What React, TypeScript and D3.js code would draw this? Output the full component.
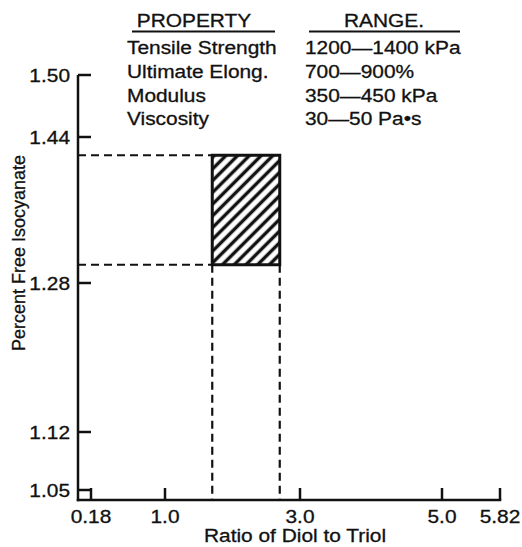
import React from "react";
import * as d3 from "d3";

// Tick values on both axes (the axes are schematic, not linear)
const isoTicks = [1.05, 1.12, 1.28, 1.44, 1.5];
const isoTickLabels = ["1.05", "1.12", "1.28", "1.44", "1.50"];
const ratioTicks = [0.18, 1.0, 3.0, 5.0, 5.82];
const ratioTickLabels = ["0.18", "1.0", "3.0", "5.0", "5.82"];

// Property table shown above the plot
const properties = ["Tensile Strength", "Ultimate Elong.", "Modulus", "Viscosity"];
const ranges = ["1200\u20141400 kPa", "700\u2014900%", "350\u2014450 kPa", "30\u201450 Pa\u2022s"];

// Acceptable formulation window
const ratioWindow = [1.7, 2.7];
const isoWindow = [1.3, 1.42];

// Layout
const W = 522;
const H = 547;
const AXIS_X = 78;
const AXIS_Y = 500;
const TICK_Y = 13;
const TICK_X = 12;
const SX = 1.16; // horizontal text stretch
const FONT = "'Liberation Sans', Arial, Helvetica, sans-serif";
const INK = "#111";
const HATCH = 8.3;

// Piecewise scales following the drawn tick spacing
const y = d3.scaleLinear().domain(isoTicks).range([490, 432, 283, 137, 75]);
const x = d3.scaleLinear().domain(ratioTicks).range([91, 165, 300, 442, 500]);

function T({ x: tx, y: ty, anchor = "start", size = 18, children }: any) {
  return (
    <text
      transform={`translate(${tx},${ty}) scale(${SX},1)`}
      textAnchor={anchor}
      fontSize={size}
      fontFamily={FONT}
      fill={INK}
      stroke={INK}
      strokeWidth={0.3}
    >
      {children}
    </text>
  );
}

export default function App() {
  const bx0 = x(ratioWindow[0]);
  const bx1 = x(ratioWindow[1]);
  const by0 = y(isoWindow[1]);
  const by1 = y(isoWindow[0]);
  const dash = "8,5";

  return (
    <svg
      width={W}
      height={H}
      style={{ position: "absolute", left: 0, top: 0, background: "#fff", display: "block" }}
    >
      <defs>
        <pattern
          id="hatch"
          patternUnits="userSpaceOnUse"
          width={HATCH}
          height={HATCH}
          patternTransform="rotate(45)"
        >
          <line x1={HATCH / 2} y1={0} x2={HATCH / 2} y2={HATCH} stroke={INK} strokeWidth={3.4} />
        </pattern>
      </defs>

      {/* table header */}
      <T x={194} y={27} anchor="middle">PROPERTY</T>
      <T x={384} y={27} anchor="middle">RANGE.</T>
      <line x1={132} x2={275} y1={31.5} y2={31.5} stroke={INK} strokeWidth={2} />
      <line x1={309} x2={460} y1={31.5} y2={31.5} stroke={INK} strokeWidth={2} />
      {properties.map((p, i) => (
        <g key={p}>
          <T x={127} y={54 + i * 23.8}>{p}</T>
          <T x={305} y={54 + i * 23.8}>{ranges[i]}</T>
        </g>
      ))}

      {/* guide lines to the window */}
      <g stroke={INK} strokeWidth={2.2} strokeDasharray={dash} fill="none">
        <line x1={AXIS_X} x2={bx0} y1={by0} y2={by0} />
        <line x1={AXIS_X} x2={bx0} y1={by1} y2={by1} />
        <line x1={bx0} x2={bx0} y1={by1} y2={AXIS_Y} />
        <line x1={bx1} x2={bx1} y1={by1} y2={AXIS_Y} />
      </g>

      {/* hatched window */}
      <rect
        x={bx0}
        y={by0}
        width={bx1 - bx0}
        height={by1 - by0}
        fill="url(#hatch)"
        stroke={INK}
        strokeWidth={3}
      />

      {/* axes */}
      <line x1={AXIS_X} x2={AXIS_X} y1={y(1.5)} y2={AXIS_Y + 1.25} stroke={INK} strokeWidth={2.5} />
      <line x1={AXIS_X - 1.25} x2={x(5.82) + 1.25} y1={AXIS_Y} y2={AXIS_Y} stroke={INK} strokeWidth={2.5} />

      {isoTicks.map((v, i) => (
        <g key={"y" + v}>
          <line x1={AXIS_X} x2={AXIS_X + TICK_Y} y1={y(v)} y2={y(v)} stroke={INK} strokeWidth={2.5} />
          <T x={70} y={y(v) + 6.5} anchor="end">{isoTickLabels[i]}</T>
        </g>
      ))}
      {ratioTicks.map((v, i) => (
        <g key={"x" + v}>
          <line x1={x(v)} x2={x(v)} y1={AXIS_Y} y2={AXIS_Y - TICK_X} stroke={INK} strokeWidth={2.5} />
          <T x={x(v)} y={523} anchor="middle">{ratioTickLabels[i]}</T>
        </g>
      ))}

      {/* axis titles */}
      <T x={295} y={542} anchor="middle">Ratio of Diol to Triol</T>
      <text
        transform="translate(25,253) rotate(-90)"
        textAnchor="middle"
        fontSize={18}
        fontFamily={FONT}
        fill={INK}
        stroke={INK}
        strokeWidth={0.3}
      >
        Percent Free Isocyanate
      </text>
    </svg>
  );
}
